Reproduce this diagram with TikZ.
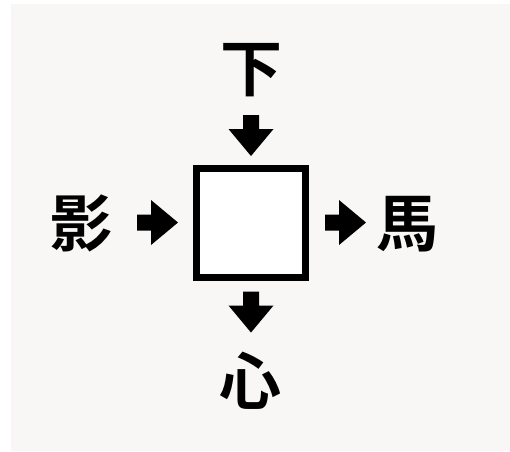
\documentclass[tikz,border=0pt]{standalone}
\usepackage{fontspec}
\newfontfamily\cjk{Noto Sans CJK JP}[BoldFont={* Bold}]
\begin{document}
\begin{tikzpicture}[x=1pt,y=-1pt,
  lbl/.style={font=\cjk\bfseries\fontsize{62}{62}\selectfont, inner sep=0pt, anchor=center},
  pics/blockarrow/.style={code={
    \fill[black] (-20.5,-8) -- (-6.5,-8) -- (-6.5,-22.5) -- (20.5,0) -- (-6.5,22.5) -- (-6.5,8) -- (-20.5,8) -- cycle;
  }}]
\useasboundingbox (0,0) rectangle (510,451);
\fill[white] (0,0) rectangle (510,451);
\fill[fill={rgb,255:red,248;green,247;blue,245}] (11,4) rectangle (510,451);
\node[draw=black, line width=7pt, fill=white, minimum size=109pt, inner sep=0pt] (box) at (251,223) {};
\node[lbl] (top) at (251,70.5) {下};
\node[lbl] (bottom) at (250,381) {心};
\node[lbl] (left) at (81,223.5) {影};
\node[lbl] (right) at (407.5,224) {馬};
\pic at (157.5,222.5) {blockarrow};
\pic at (345.5,222.5) {blockarrow};
\pic[rotate=-90] at (251,135.5) {blockarrow};
\pic[rotate=-90] at (251,312) {blockarrow};
\end{tikzpicture}
\end{document}
